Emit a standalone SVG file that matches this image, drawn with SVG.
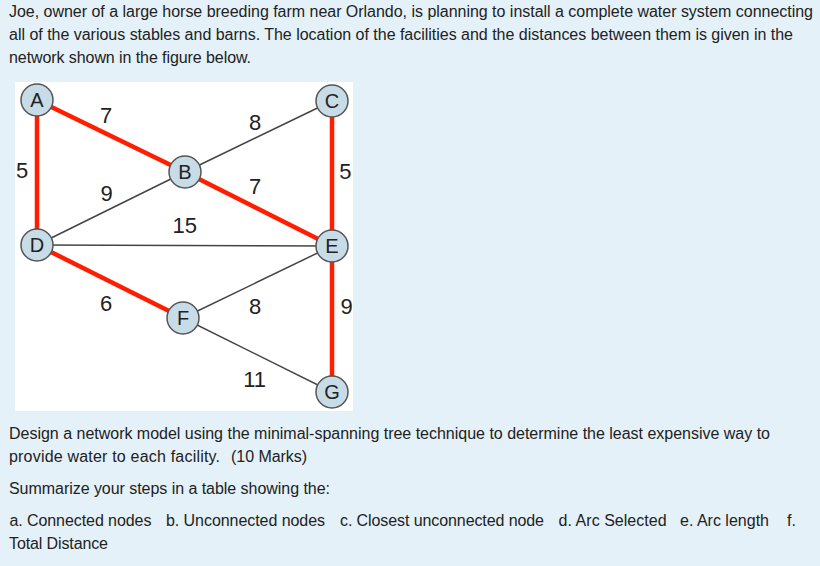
<svg xmlns="http://www.w3.org/2000/svg" width="820" height="566" viewBox="0 0 820 566">
<style>
.p{font-family:"Liberation Sans",Arial,sans-serif;font-size:16px;fill:#222}
.lbl{font-family:"Liberation Sans",Arial,sans-serif;font-size:22px;fill:#222;text-anchor:middle}
.nt{font-family:"Liberation Sans",Arial,sans-serif;font-size:20px;fill:#222;text-anchor:middle}
.nc{fill:#c8dce7;stroke:#555;stroke-width:1.5}
.red{stroke:#ff1e00;stroke-width:4.5;fill:none}
.gray{stroke:#444;stroke-width:1.5;fill:none}
</style>
<rect x="0" y="0" width="820" height="566" fill="#e4f1f8"/>
<g id="text-top">
<text class="p" x="9" y="17" textLength="804" lengthAdjust="spacing">Joe, owner of a large horse breeding farm near Orlando, is planning to install a complete water system connecting</text>
<text class="p" x="9" y="40" textLength="784" lengthAdjust="spacing">all of the various stables and barns. The location of the facilities and the distances between them is given in the</text>
<text class="p" x="9" y="63" textLength="242" lengthAdjust="spacing">network shown in the figure below.</text>
</g>
<rect id="panel" x="15" y="82" width="338" height="329" fill="#ffffff"/>
<g id="connectors">
<line class="red" x1="37" y1="100" x2="37" y2="245"/>
<line class="red" x1="37" y1="100" x2="185" y2="172"/>
<line class="red" x1="185" y1="172" x2="332" y2="246"/>
<line class="red" x1="332" y1="101" x2="332" y2="246"/>
<line class="red" x1="37" y1="245" x2="183" y2="318"/>
<line class="red" x1="332" y1="246" x2="332" y2="392"/>
<line class="gray" x1="185" y1="172" x2="332" y2="101"/>
<line class="gray" x1="185" y1="172" x2="37" y2="245"/>
<line class="gray" x1="37" y1="245" x2="332" y2="246"/>
<line class="gray" x1="183" y1="318" x2="332" y2="246"/>
<line class="gray" x1="183" y1="318" x2="332" y2="392"/>
<text class="lbl" x="106" y="123">7</text>
<text class="lbl" x="22" y="178">5</text>
<text class="lbl" x="106.5" y="200.5">9</text>
<text class="lbl" x="184.7" y="233">15</text>
<text class="lbl" x="255" y="130">8</text>
<text class="lbl" x="255" y="194">7</text>
<text class="lbl" x="345.3" y="179">5</text>
<text class="lbl" x="106" y="310.5">6</text>
<text class="lbl" x="255" y="314">8</text>
<text class="lbl" x="346.7" y="314">9</text>
<text class="lbl" x="254.7" y="386.7">11</text>
</g>
<g id="node-A"><circle class="nc" cx="37" cy="100" r="16"/><text class="nt" x="37" y="107">A</text></g>
<g id="node-B"><circle class="nc" cx="185" cy="172" r="16"/><text class="nt" x="185" y="179">B</text></g>
<g id="node-C"><circle class="nc" cx="332" cy="101" r="16"/><text class="nt" x="332" y="108">C</text></g>
<g id="node-D"><circle class="nc" cx="37" cy="245" r="16"/><text class="nt" x="37" y="252">D</text></g>
<g id="node-E"><circle class="nc" cx="332" cy="246" r="16"/><text class="nt" x="332" y="253">E</text></g>
<g id="node-F"><circle class="nc" cx="183" cy="318" r="16"/><text class="nt" x="183" y="325">F</text></g>
<g id="node-G"><circle class="nc" cx="332" cy="392" r="16"/><text class="nt" x="332" y="399">G</text></g>
<g id="text-bottom">
<text class="p" x="9" y="439" textLength="761" lengthAdjust="spacing">Design a network model using the minimal-spanning tree technique to determine the least expensive way to</text>
<text class="p" x="9" y="462" textLength="211" lengthAdjust="spacing">provide water to each facility.</text>
<text class="p" x="231" y="462" textLength="76" lengthAdjust="spacing">(10 Marks)</text>
<text class="p" x="9" y="493.5" textLength="321" lengthAdjust="spacing">Summarize your steps in a table showing the:</text>
<text class="p" x="9.4" y="526" textLength="142" lengthAdjust="spacing">a. Connected nodes</text>
<text class="p" x="166" y="526" textLength="159" lengthAdjust="spacing">b. Unconnected nodes</text>
<text class="p" x="340" y="526" textLength="204" lengthAdjust="spacing">c. Closest unconnected node</text>
<text class="p" x="558.6" y="526" textLength="108" lengthAdjust="spacing">d. Arc Selected</text>
<text class="p" x="680" y="526" textLength="89" lengthAdjust="spacing">e. Arc length</text>
<text class="p" x="787" y="526">f.</text>
<text class="p" x="9" y="548.5" textLength="99" lengthAdjust="spacing">Total Distance</text>
</g>
</svg>
